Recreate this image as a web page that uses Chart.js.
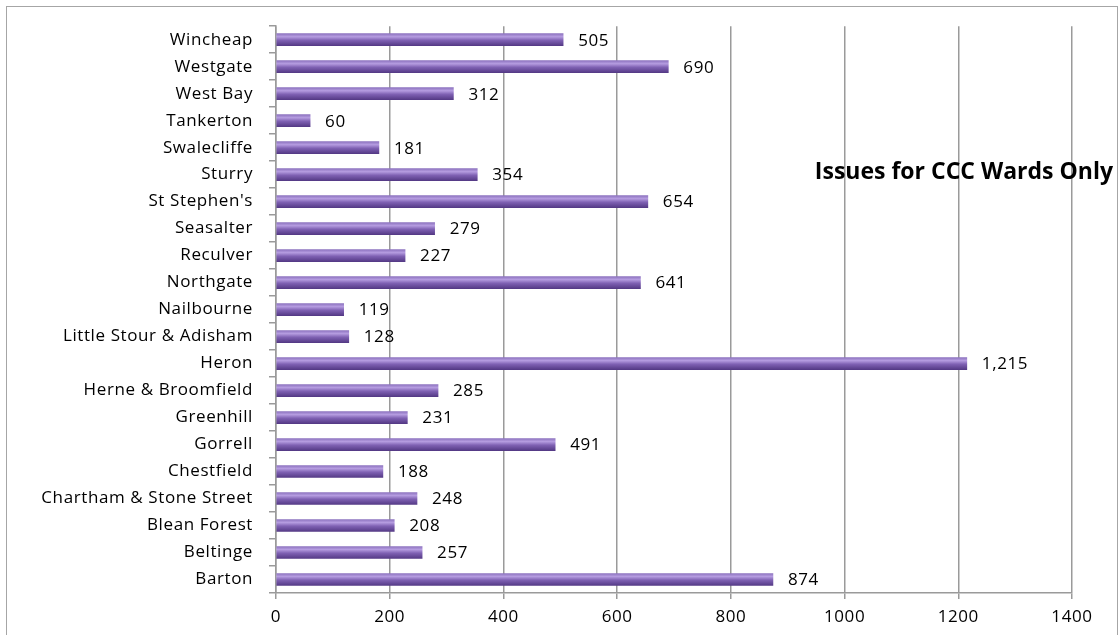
<!DOCTYPE html>
<html>
<head>
<meta charset="utf-8">
<script src="https://cdn.jsdelivr.net/npm/chart.js@4"></script>
<style>
  html, body { margin: 0; padding: 0; background: #fff; }
  #wrap { position: relative; width: 1120px; height: 635px; overflow: hidden; }
  #frame { position: absolute; left: 6px; top: 6px; width: 1112px; height: 660px; border: 1.5px solid #a6a6a6; box-sizing: border-box; }
  canvas { position: absolute; left: 0; top: 0; }
</style>
</head>
<body>
<div id="wrap">
  <div id="frame"></div>
  <canvas id="chart" width="1120" height="635"></canvas>
</div>
<script>
// wards, top to bottom as shown
const wards = [
  'Wincheap', 'Westgate', 'West Bay', 'Tankerton', 'Swalecliffe', 'Sturry',
  "St Stephen's", 'Seasalter', 'Reculver', 'Northgate', 'Nailbourne',
  'Little Stour & Adisham', 'Heron', 'Herne & Broomfield', 'Greenhill',
  'Gorrell', 'Chestfield', 'Chartham & Stone Street', 'Blean Forest',
  'Beltinge', 'Barton'
];
const issues = [505, 690, 312, 60, 181, 354, 654, 279, 227, 641, 119, 128, 1215, 285, 231, 491, 188, 248, 208, 257, 874];
const xTicks = [0, 200, 400, 600, 800, 1000, 1200, 1400];
const chartTitle = 'Issues for CCC Wards Only';

const FONT = 'Open Sans';

// vertical gradient per bar so it looks like the excel tube
function barFill(c) {
  const chart = c.chart;
  const y = chart.scales.y;
  if (!chart.chartArea || !y || c.dataIndex === undefined) return '#7d5fb0';
  const mid = y.getPixelForValue(c.dataIndex);
  const g = chart.ctx.createLinearGradient(0, mid - 6, 0, mid + 6);
  g.addColorStop(0, '#8e74c0');
  g.addColorStop(0.25, '#b59ce0');
  g.addColorStop(0.55, '#7f61b3');
  g.addColorStop(1, '#553a86');
  return g;
}

// the excel text is a bit wider than Open Sans, spread it a little
const spacing = {
  id: 'spacing',
  beforeDraw(chart) { chart.ctx.letterSpacing = '0.6px'; }
};

const valueLabels = {
  id: 'valueLabels',
  afterDatasetsDraw(chart) {
    const ctx = chart.ctx;
    const meta = chart.getDatasetMeta(0);
    ctx.save();
    ctx.font = '17px "' + FONT + '"';
    ctx.fillStyle = '#000';
    ctx.textAlign = 'left';
    ctx.textBaseline = 'middle';
    meta.data.forEach((bar, i) => {
      ctx.fillText(issues[i].toLocaleString('en-US'), bar.x + 15, bar.y + 1);
    });
    ctx.restore();
  }
};

const innerTitle = {
  id: 'innerTitle',
  afterDraw(chart) {
    const ctx = chart.ctx;
    ctx.save();
    ctx.letterSpacing = '0px';
    ctx.font = 'bold 23px "' + FONT + '"';
    ctx.fillStyle = '#000';
    ctx.textAlign = 'right';
    ctx.textBaseline = 'middle';
    ctx.fillText(chartTitle, 1113, 172);
    ctx.restore();
  }
};

new Chart(document.getElementById('chart'), {
  type: 'bar',
  data: {
    labels: wards,
    datasets: [{
      data: issues,
      backgroundColor: barFill,
      borderWidth: 0,
      barThickness: 12
    }]
  },
  options: {
    indexAxis: 'y',
    responsive: false,
    animation: false,
    layout: { padding: { top: 25, right: 48, left: 0, bottom: 0 } },
    plugins: { legend: { display: false }, tooltip: { enabled: false } },
    scales: {
      x: {
        min: 0, max: 1400,
        afterBuildTicks: s => { s.ticks = xTicks.map(v => ({ value: v })); },
        afterFit: s => { s.height = 42; },
        grid: { color: '#9a9a9a', lineWidth: 1.5, tickLength: 6, tickColor: '#9a9a9a' },
        border: { color: '#9a9a9a', width: 1.5 },
        ticks: { color: '#000', font: { family: FONT, size: 17 }, padding: 8, callback: v => String(v) }
      },
      y: {
        afterFit: s => { s.width = 276; },
        grid: { offset: true, drawOnChartArea: false, tickLength: 7, color: '#9a9a9a', lineWidth: 1.5 },
        border: { color: '#9a9a9a', width: 1.5 },
        ticks: { color: '#000', font: { family: FONT, size: 17 }, padding: 16, autoSkip: false }
      }
    }
  },
  plugins: [spacing, valueLabels, innerTitle]
});
</script>
</body>
</html>
